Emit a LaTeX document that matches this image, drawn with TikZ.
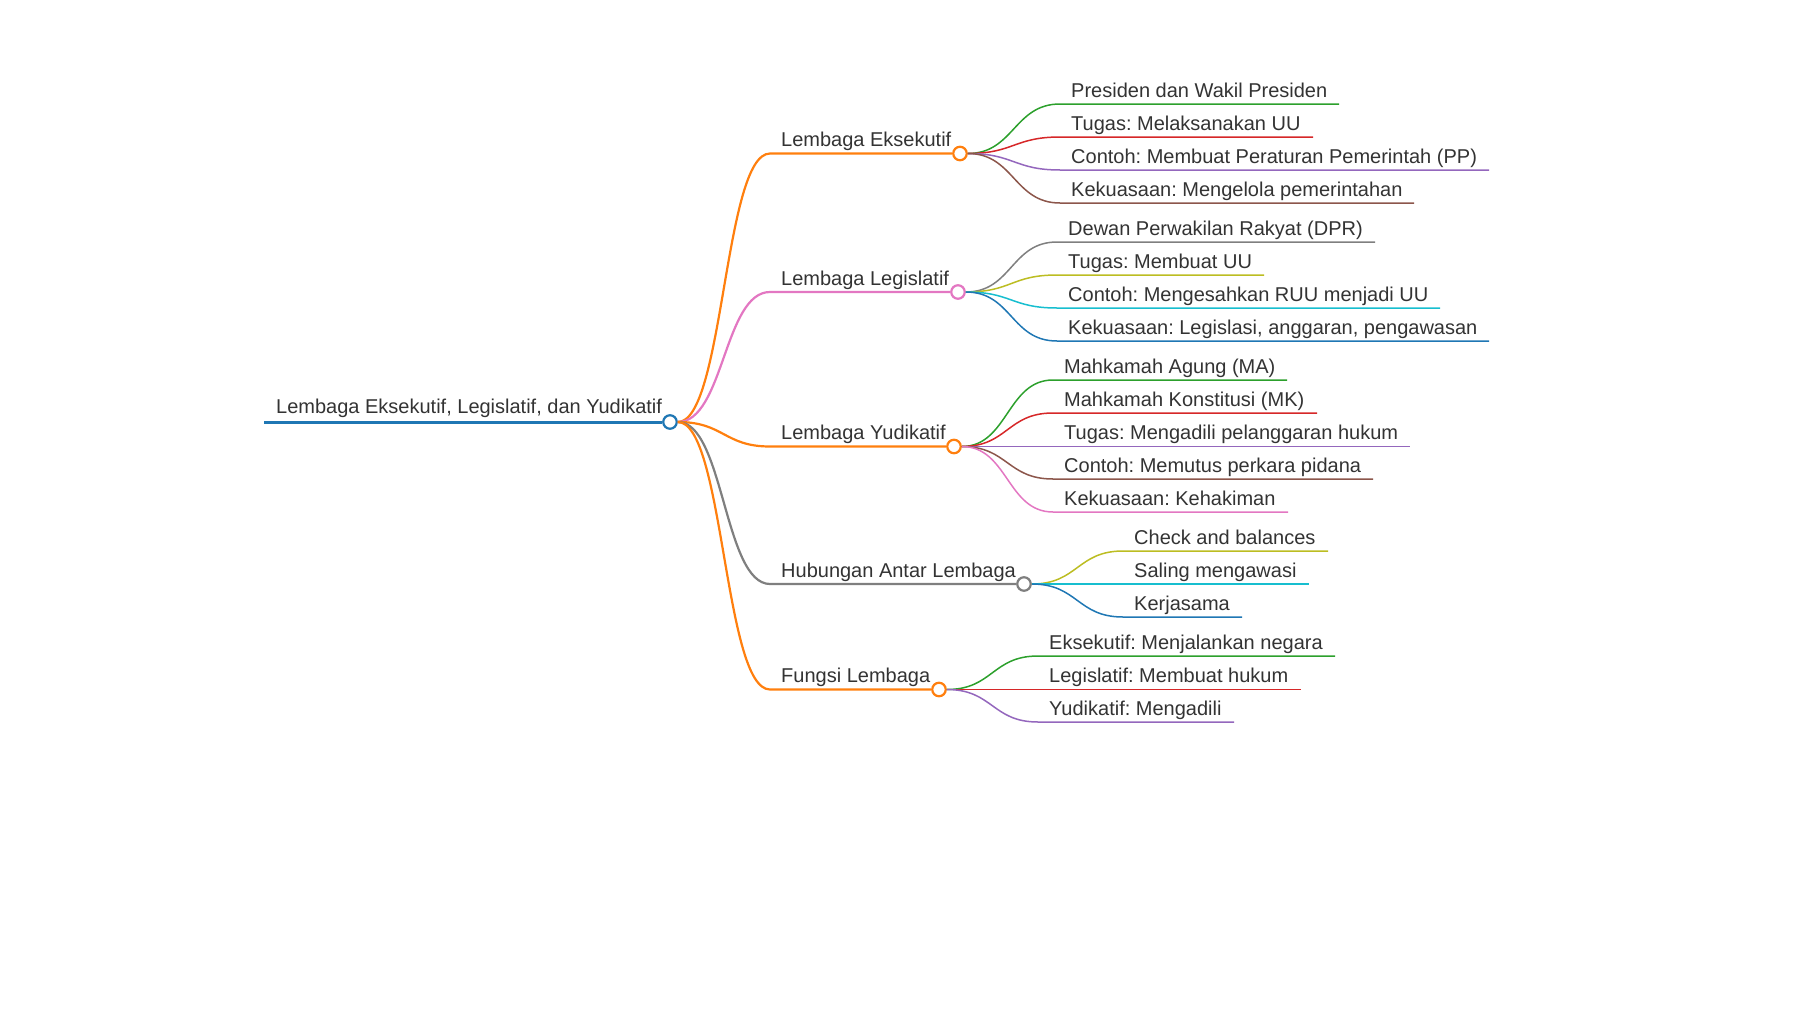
\documentclass[tikz,border=0pt]{standalone}
\usepackage{fontspec}
\setmainfont{Liberation Sans}
\frenchspacing
\definecolor{cblue}{HTML}{1F77B4}
\definecolor{corange}{HTML}{FF7F0E}
\definecolor{cgreen}{HTML}{2CA02C}
\definecolor{cred}{HTML}{D62728}
\definecolor{cpurple}{HTML}{9467BD}
\definecolor{cbrown}{HTML}{8C564B}
\definecolor{cpink}{HTML}{E377C2}
\definecolor{cgray}{HTML}{7F7F7F}
\definecolor{colive}{HTML}{BCBD22}
\definecolor{ccyan}{HTML}{17BECF}
\definecolor{txtgray}{HTML}{333333}
\newcommand\mmleaf[7]{% name, parent, colour, start x, y, end x, text
  \coordinate (#1S) at (#4,#5);
  \coordinate (#1E) at (#6,#5);
  \node[txt] (#1T) at (#4+11,#5-7) {#7};
  \draw[#3,l3] (#2.east) .. controls +(46,0) and +(-46,0) .. (#1S) -- (#1E);
}
\newcommand\mmmid[5]{% name, colour, y, circle x, text
  \coordinate (#1S) at (770,#3);
  \node[dot,draw=#2] (#1C) at (#4,#3) {};
  \node[txt] (#1T) at (781,#3-7) {#5};
  \draw[#2,l2] (rC.east) .. controls +(46,0) and +(-46,0) .. (#1S) -- (#1C.west);
}
\begin{document}
\begin{tikzpicture}[x=1pt,y=-1pt,
  txt/.style={anchor=base west,inner sep=0pt,text=txtgray,font=\fontsize{20}{24}\selectfont},
  dot/.style={circle,fill=white,minimum size=13.5,inner sep=0pt,line width=2.2},
  l1/.style={line width=3},
  l2/.style={line width=2.2},
  l3/.style={line width=1.5}]
\useasboundingbox (0,0) rectangle (1800,1012);
% root
\coordinate (r0) at (264,422);
\node[dot,draw=cblue] (rC) at (670,422) {};
\node[txt] (rT) at (276,413) {Lembaga Eksekutif, Legislatif, dan Yudikatif};
\draw[cblue,l1] (r0) -- (rC.west);
% second level
\mmmid{e}{corange}{153.5}{960}{Lembaga Eksekutif}
\mmmid{l}{cpink}{292}{958}{Lembaga Legislatif}
\mmmid{y}{corange}{446.5}{954}{Lembaga Yudikatif}
\mmmid{h}{cgray}{584}{1024}{Hubungan Antar Lembaga}
\mmmid{f}{corange}{689.5}{939}{Fungsi Lembaga}
% Eksekutif
\mmleaf{e1}{eC}{cgreen}{1060}{104}{1339}{Presiden dan Wakil Presiden}
\mmleaf{e2}{eC}{cred}{1060}{137}{1313}{Tugas: Melaksanakan UU}
\mmleaf{e3}{eC}{cpurple}{1060}{170}{1489}{Contoh: Membuat Peraturan Pemerintah (PP)}
\mmleaf{e4}{eC}{cbrown}{1060}{203}{1414}{Kekuasaan: Mengelola pemerintahan}
% Legislatif
\mmleaf{l1}{lC}{cgray}{1057}{242}{1375}{Dewan Perwakilan Rakyat (DPR)}
\mmleaf{l2}{lC}{colive}{1057}{275}{1264}{Tugas: Membuat UU}
\mmleaf{l3}{lC}{ccyan}{1057}{308}{1440}{Contoh: Mengesahkan RUU menjadi UU}
\mmleaf{l4}{lC}{cblue}{1057}{341}{1489}{Kekuasaan: Legislasi, anggaran, pengawasan}
% Yudikatif
\mmleaf{y1}{yC}{cgreen}{1053}{380}{1287}{Mahkamah Agung (MA)}
\mmleaf{y2}{yC}{cred}{1053}{413}{1317}{Mahkamah Konstitusi (MK)}
\mmleaf{y3}{yC}{cpurple}{1053}{446.5}{1410}{Tugas: Mengadili pelanggaran hukum}
\mmleaf{y4}{yC}{cbrown}{1053}{479}{1373}{Contoh: Memutus perkara pidana}
\mmleaf{y5}{yC}{cpink}{1053}{512}{1288}{Kekuasaan: Kehakiman}
% Hubungan
\mmleaf{h1}{hC}{colive}{1123}{551}{1328}{Check and balances}
\mmleaf{h2}{hC}{ccyan}{1123}{584}{1309}{Saling mengawasi}
\mmleaf{h3}{hC}{cblue}{1123}{617}{1242}{Kerjasama}
% Fungsi
\mmleaf{f1}{fC}{cgreen}{1038}{656}{1335}{Eksekutif: Menjalankan negara}
\mmleaf{f2}{fC}{cred}{1038}{689.5}{1301}{Legislatif: Membuat hukum}
\mmleaf{f3}{fC}{cpurple}{1038}{722}{1234}{Yudikatif: Mengadili}
\end{tikzpicture}
\end{document}
